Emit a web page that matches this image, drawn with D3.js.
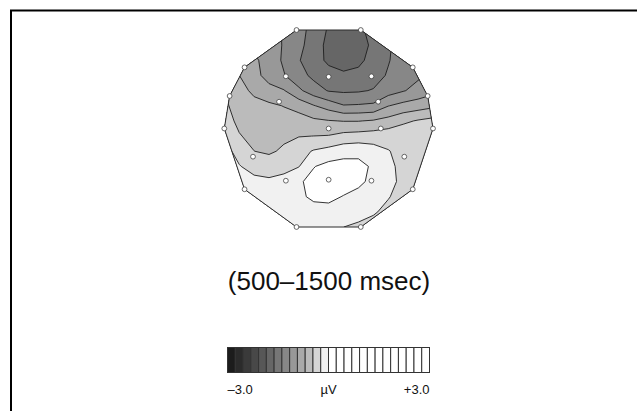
<!DOCTYPE html>
<html>
<head>
<meta charset="utf-8">
<script src="https://cdn.jsdelivr.net/npm/d3@7"></script>
<style>
  body { margin: 0; background: #fff; }
  svg { display: block; font-family: "Liberation Sans", Arial, sans-serif; }
</style>
</head>
<body>
<svg id="chart" width="637" height="411"></svg>
<script>
// electrode positions in head coordinates (-1..1), outer ring first
const elecU = [-0.308, 0.308, -0.806, 0.806, -0.949, 0.949, -1.0, 1.0, -0.806, 0.806, -0.308, 0.308,
               -0.41, 0, 0.41, -0.475, 0.475, 0, 0.50, -0.725, 0.725, -0.41, 0, 0.41]
const elecV = [-1.0, -1.0, -0.621, -0.621, -0.33, -0.33, 0, 0, 0.617, 0.617, 1.0, 1.0,
               -0.53, -0.525, -0.53, -0.272, -0.272, 0, 0, 0.286, 0.286, 0.53, 0.52, 0.53]

// potential (µV), 15 columns x 14 rows, top row first
const gridCols = 15, gridRows = 14
const potential = [
  -0.81, -0.92, -1.02, -1.08, -1.17, -1.29, -1.48, -1.64, -1.73, -1.66, -1.55, -1.43, -1.34, -1.25, -1.15,
  -0.78, -0.88, -0.97, -1.06, -1.17, -1.32, -1.50, -1.68, -1.78, -1.71, -1.57, -1.41, -1.29, -1.20, -1.11,
  -0.69, -0.78, -0.88, -1.02, -1.19, -1.37, -1.52, -1.66, -1.73, -1.67, -1.53, -1.40, -1.27, -1.18, -1.08,
  -0.60, -0.69, -0.84, -1.02, -1.14, -1.30, -1.44, -1.53, -1.57, -1.55, -1.48, -1.36, -1.26, -1.19, -1.11,
  -0.46, -0.58, -0.76, -0.84, -0.91, -1.11, -1.28, -1.40, -1.42, -1.41, -1.37, -1.26, -1.17, -1.08, -0.99,
  -0.44, -0.51, -0.59, -0.65, -0.70, -0.78, -0.91, -1.02, -1.14, -1.13, -1.11, -0.93, -0.85, -0.80, -0.74,
  -0.39, -0.50, -0.55, -0.58, -0.60, -0.59, -0.65, -0.68, -0.70, -0.70, -0.67, -0.61, -0.51, -0.44, -0.39,
  -0.39, -0.45, -0.51, -0.52, -0.51, -0.47, -0.46, -0.45, -0.39, -0.37, -0.35, -0.32, -0.29, -0.27, -0.25,
  -0.16, -0.30, -0.46, -0.50, -0.42, -0.32, -0.21, -0.15, -0.08, -0.06, -0.13, -0.22, -0.30, -0.35, -0.37,
  -0.14, -0.22, -0.30, -0.32, -0.30, -0.24, -0.01,  0.07,  0.08,  0.06, -0.03, -0.18, -0.29, -0.33, -0.37,
  -0.09, -0.15, -0.18, -0.20, -0.16, -0.03,  0.07,  0.12,  0.10,  0.05, -0.06, -0.17, -0.28, -0.32, -0.37,
  -0.09, -0.13, -0.15, -0.14, -0.09, -0.03,  0.03,  0.05, -0.01, -0.07, -0.14, -0.22, -0.30, -0.35, -0.37,
  -0.12, -0.14, -0.15, -0.14, -0.12, -0.08, -0.06, -0.07, -0.10, -0.15, -0.21, -0.28, -0.32, -0.36, -0.38,
  -0.14, -0.15, -0.16, -0.15, -0.14, -0.12, -0.13, -0.16, -0.23, -0.27, -0.30, -0.33, -0.36, -0.38, -0.39
]

// grey scale of the colour bar, one entry per step from -3.0 to +3.0
const legendColors = ["#1c1c1c", "#2b2b2b", "#3a3a3a", "#484848", "#575757", "#666666", "#767676",
  "#878787", "#989898", "#a9a9a9", "#bbbbbb", "#d5d5d5", "#f1f1f1",
  "#ffffff", "#ffffff", "#ffffff", "#ffffff", "#ffffff", "#ffffff", "#ffffff",
  "#ffffff", "#ffffff", "#ffffff", "#ffffff", "#ffffff", "#ffffff"]
const legendMin = -3, legendMax = 3
const legendLabels = ["–3.0", "µV", "+3.0"]
const title = "(500–1500 msec)"

const svg = d3.select("#chart")

// frame
svg.append("path")
  .attr("d", "M11,411V10.5H637")
  .attr("fill", "none")
  .attr("stroke", "#000")
  .attr("stroke-width", 2)

const x = d3.scaleLinear().domain([-1, 1]).range([224.3, 433])
const y = d3.scaleLinear().domain([-1, 1]).range([30, 227])
const gx = d3.scaleLinear().domain([0.5, gridCols - 0.5]).range([x(-1), x(1)])
const gy = d3.scaleLinear().domain([0.5, gridRows - 0.5]).range([y(-1), y(1)])

const step = (legendMax - legendMin) / legendColors.length
const thresholds = legendColors.map((c, k) => legendMin + k * step)

const electrodes = elecU.map((u, i) => [x(u), y(elecV[i])])
const hull = d3.polygonHull(electrodes)

svg.append("clipPath").attr("id", "head")
  .append("path").attr("d", "M" + hull.join("L") + "Z")

const contours = d3.contours()
  .size([gridCols, gridRows])
  .thresholds(thresholds)(potential)

const path = d3.geoPath(d3.geoTransform({
  point(px, py) { this.stream.point(gx(px), gy(py)) }
}))

const map = svg.append("g").attr("clip-path", "url(#head)")

map.selectAll("path.band")
  .data(contours)
  .join("path")
  .attr("class", "band")
  .attr("d", path)
  .attr("fill", (d, i) => legendColors[i])

map.selectAll("path.iso")
  .data(contours.slice(1))
  .join("path")
  .attr("class", "iso")
  .attr("d", path)
  .attr("fill", "none")
  .attr("stroke", "#1e1e1e")
  .attr("stroke-width", 0.9)

svg.append("path")
  .attr("d", "M" + hull.join("L") + "Z")
  .attr("fill", "none")
  .attr("stroke", "#2a2a2a")
  .attr("stroke-width", 1)

svg.selectAll("circle.elec")
  .data(electrodes)
  .join("circle")
  .attr("class", "elec")
  .attr("cx", d => d[0])
  .attr("cy", d => d[1])
  .attr("r", 2.4)
  .attr("fill", "#fff")
  .attr("stroke", "#444")
  .attr("stroke-width", 0.8)

svg.append("text")
  .attr("x", 329)
  .attr("y", 290)
  .attr("text-anchor", "middle")
  .attr("font-size", 26)
  .attr("fill", "#111")
  .text(title)

// colour bar
const lx = d3.scaleLinear().domain([legendMin, legendMax]).range([227.5, 429.5])
const legend = svg.append("g")
legend.selectAll("rect")
  .data(thresholds)
  .join("rect")
  .attr("x", t => lx(t))
  .attr("y", 347.5)
  .attr("width", lx(legendMin + step) - lx(legendMin))
  .attr("height", 25)
  .attr("fill", (t, i) => legendColors[i])
  .attr("stroke", "#333")
  .attr("stroke-width", 1)

legend.selectAll("text")
  .data(legendLabels)
  .join("text")
  .attr("x", (d, i) => lx([legendMin, 0, legendMax][i]))
  .attr("y", 394)
  .attr("text-anchor", (d, i) => ["start", "middle", "end"][i])
  .attr("font-size", 13)
  .attr("fill", "#111")
  .text(d => d)
</script>
</body>
</html>
